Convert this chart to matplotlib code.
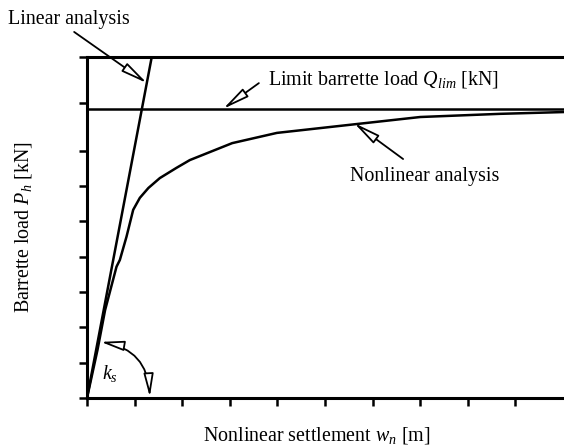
import numpy as np
import matplotlib
matplotlib.use("Agg")
import matplotlib.pyplot as plt

plt.rcParams['font.family'] = 'Liberation Serif'
plt.rcParams['mathtext.fontset'] = 'custom'
plt.rcParams['mathtext.rm'] = 'Liberation Serif'
plt.rcParams['mathtext.it'] = 'Liberation Serif:italic'

# Courbe non lineaire, unites = pas des graduations
curve_x = [0, 0.22, 0.38, 0.62, 0.69, 0.83, 0.97, 1.11, 1.29, 1.53, 1.88,
           2.16, 3.05, 3.99, 5.46, 7.00, 8.68, 10.0]
curve_y = [0, 1.36, 2.49, 3.72, 3.91, 4.57, 5.33, 5.67, 5.95, 6.23, 6.52,
           6.74, 7.22, 7.51, 7.73, 7.96, 8.05, 8.10]

# Droite lineaire
lin_x = [0, 1.36]
lin_y = [0, 9.66]

# Charge limite
q_lim = 8.19

x_ticks = [0, 1, 2, 3, 4, 5, 6, 7, 8, 9]
y_ticks = [0, 1, 2, 3, 4, 5, 6, 7, 8.36, 9.66]

fs = 14.4
lw = 1.8

fig = plt.figure(figsize=(5.64, 4.46), dpi=100)
ax = fig.add_axes([87/564, 48/446, 477/564, 341/446])

ax.plot(curve_x, curve_y, color='black', lw=lw)
ax.plot(lin_x, lin_y, color='black', lw=lw)
ax.axhline(q_lim, color='black', lw=lw)

ax.set_xlim(0, 10.02)
ax.set_ylim(0, 9.66)
ax.set_xticks(x_ticks)
ax.set_yticks(y_ticks)
ax.set_xticklabels([])
ax.set_yticklabels([])
ax.tick_params(direction='out', length=6, width=1.8, color='black')
ax.spines['right'].set_visible(False)
for s in ['left', 'top', 'bottom']:
    ax.spines[s].set_linewidth(2.2)

arrow = dict(arrowstyle='-|>,head_length=1.6,head_width=0.3', mutation_scale=10,
             fc='white', ec='black', lw=1.3, shrinkA=0, shrinkB=0)

# Fleches d'annotation
ax.annotate('', xy=(1.26, 8.92), xytext=(-0.27, 10.37), arrowprops=arrow,
            annotation_clip=False)
ax.annotate('', xy=(2.86, 8.19), xytext=(3.61, 8.92), arrowprops=arrow)
ax.annotate('', xy=(5.61, 7.79), xytext=(6.64, 6.77), arrowprops=arrow)

arc = dict(arrowstyle='<|-|>,head_length=1.4,head_width=0.3', mutation_scale=10,
           fc='white', ec='black', lw=1.3, shrinkA=0, shrinkB=0,
           connectionstyle='arc3,rad=-0.4')
ax.annotate('', xy=(1.32, 0.03), xytext=(0.29, 1.59), arrowprops=arc)
ax.text(0.48, 0.68, '$k_s$', fontsize=fs, ha='center', va='center')

fig.text(8/564, 1 - 24/446, 'Linear analysis', fontsize=fs, ha='left', va='baseline')
fig.text(268/564, 1 - 84/446, 'Limit barrette load $Q_{lim}$ [kN]', fontsize=fs,
         ha='left', va='baseline')
fig.text(350/564, 1 - 181/446, 'Nonlinear analysis', fontsize=fs, ha='left', va='baseline')
fig.text(317/564, 1 - 440/446, 'Nonlinear settlement $w_n$ [m]', fontsize=fs,
         ha='center', va='baseline')
fig.text(24/564, 1 - 227/446, 'Barrette load $P_h$ [kN]', fontsize=fs,
         ha='center', va='center', rotation=90)

fig.savefig('out.png', dpi=100)
